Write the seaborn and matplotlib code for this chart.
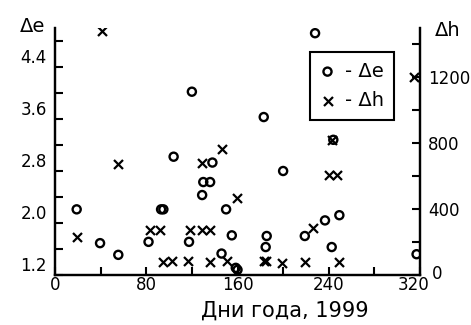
import numpy as np
import pandas as pd
import matplotlib
matplotlib.use("Agg")
import matplotlib.pyplot as plt
import matplotlib.transforms as mtransforms
from matplotlib.ticker import FixedLocator
import seaborn as sns

# Δe series (left axis): day of year, value
de_days = [19, 39.5, 55.5, 82, 93, 95, 104, 117.5, 120, 129, 130, 136, 138,
           146, 150, 155, 158.5, 160, 183, 184.7, 185.6, 200, 219, 228,
           236.7, 242.6, 244, 249.3, 317]
de_vals = [2.21, 1.69, 1.51, 1.71, 2.21, 2.21, 3.02, 1.71, 4.02, 2.43, 2.63, 2.63, 2.93,
           1.53, 2.21, 1.81, 1.31, 1.28, 3.63, 1.63, 1.80, 2.80, 1.80, 4.92,
           2.04, 1.63, 3.28, 2.12, 1.52]

# Δh series (right axis): day of year, value
dh_days = [19.6, 41, 55.5, 83.3, 92.1, 95, 102.3, 116.9, 118.4, 128.6, 129, 135.9,
           135.9, 146.7, 151.1, 159.3, 183.5, 185, 199.3, 219.2, 226.5, 240.5,
           242.6, 247, 249.3, 315]
dh_vals = [232, 1480, 677, 275, 275, 80, 85, 85, 275, 275, 681, 80,
           275, 768, 88, 469, 82, 82, 75, 77, 283, 606,
           818, 606, 77, 1202]

x_ticks = [0, 80, 160, 240, 320]
left_ticks = [1.2, 2.0, 2.8, 3.6, 4.4]
right_ticks = [0, 400, 800, 1200]

sns.set_style("ticks")
plt.rcParams['font.family'] = ['DejaVu Sans']
for k in ('text.color', 'axes.labelcolor', 'xtick.color', 'ytick.color', 'axes.edgecolor'):
    plt.rcParams[k] = 'black'

fig = plt.figure(figsize=(4.71, 3.25), dpi=100)
ax = fig.add_axes([55/471, 1 - 275/325, 365/471, 247/325])
ax2 = ax.twinx()

de_df = pd.DataFrame({"day": de_days, "val": de_vals})
dh_df = pd.DataFrame({"day": dh_days, "val": dh_vals})

sns.scatterplot(data=de_df, x="day", y="val", ax=ax, marker="o", s=34,
                facecolor="none", edgecolor="black", linewidth=1.7,
                label="- \u0394e", legend=False)
sns.scatterplot(data=dh_df, x="day", y="val", ax=ax2, marker="x", s=42,
                color="black", linewidth=1.6, label="- \u0394h", legend=False)

ax.set_xlim(0, 320)
ax.set_ylim(1.2, 5.0)
ax2.set_ylim(0, 1500)

ax.set_xlabel("")
ax.set_ylabel("")
ax2.set_ylabel("")

for a in (ax, ax2):
    a.spines['top'].set_visible(False)
    for s in ('left', 'right', 'bottom'):
        a.spines[s].set_linewidth(1.6)
        a.spines[s].set_color('black')

ax.set_xticks(x_ticks)
ax.xaxis.set_minor_locator(FixedLocator([40, 120, 200, 280]))
ax.set_yticks(left_ticks)
ax.yaxis.set_minor_locator(FixedLocator([1.6, 2.4, 3.2, 4.0, 4.8]))
ax2.set_yticks(right_ticks)
ax2.yaxis.set_minor_locator(FixedLocator([200, 600, 1000, 1400]))

ax.tick_params(axis='x', which='both', direction='in', length=6, width=1.5,
               labelsize=12, pad=1, colors='black')
ax.tick_params(axis='y', which='both', direction='in', length=6, width=1.5,
               labelsize=12, pad=6, colors='black')
ax2.tick_params(axis='y', which='both', direction='in', length=6, width=1.5,
                labelsize=12, pad=6, colors='black')
ax.set_yticklabels([f"{v:.1f}" for v in left_ticks])
for lab in ax.get_yticklabels():
    lab.set_verticalalignment('bottom')

# nudge the last x label left and the right-axis "0" up, as in the reference
xl = ax.get_xticklabels()
xl[-1].set_transform(xl[-1].get_transform() +
                     mtransforms.ScaledTranslation(-6/100, 0, fig.dpi_scale_trans))
rl = ax2.get_yticklabels()
rl[0].set_transform(rl[0].get_transform() +
                    mtransforms.ScaledTranslation(4/100, 3/100, fig.dpi_scale_trans))

fig.text(33/471, 1 - 26/325, "\u0394e", fontsize=14, ha='center', va='center')
fig.text(448/471, 1 - 30/325, "\u0394h", fontsize=14, ha='center', va='center')
fig.text(285/471, 1 - 311/325, "Дни года, 1999", fontsize=15, ha='center', va='center')

h1, l1 = ax.get_legend_handles_labels()
h2, l2 = ax2.get_legend_handles_labels()
leg = ax2.legend(h1 + h2, l1 + l2, loc='upper left',
                 bbox_to_anchor=(310/471, 1 - 52/325), bbox_transform=fig.transFigure,
                 borderaxespad=0, fancybox=False, framealpha=1, edgecolor='black',
                 fontsize=14, handlelength=0.8, handletextpad=0.5,
                 labelspacing=0.55, borderpad=0.5)
leg.get_frame().set_linewidth(1.5)
for t in leg.get_texts():
    t.set_color('black')

fig.savefig("out.png", dpi=100)
